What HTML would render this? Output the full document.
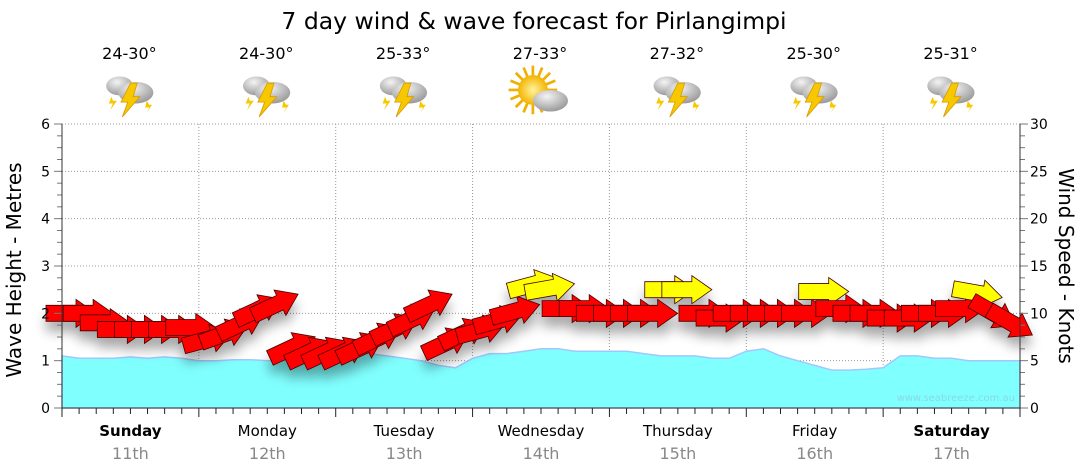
<!DOCTYPE html>
<html><head><meta charset="utf-8"><style>
html,body{margin:0;padding:0;background:#fff;}
svg{display:block;font-family:"DejaVu Sans","Liberation Sans",sans-serif;}
</style></head><body>
<svg id="chart" width="1080" height="475" viewBox="0 0 1080 475">
<defs>
<filter id="sh" x="-50%" y="-50%" width="200%" height="200%"><feGaussianBlur stdDeviation="6"/></filter>
<radialGradient id="cg" cx="40%" cy="30%" r="70%"><stop offset="0" stop-color="#f4f4f4"/><stop offset="1" stop-color="#9a9a9a"/></radialGradient>
<radialGradient id="sg" cx="50%" cy="50%" r="50%"><stop offset="0" stop-color="#fff3a0"/><stop offset="1" stop-color="#f4b400"/></radialGradient>
</defs>
<text x="534" y="29" text-anchor="middle" font-size="23.5" fill="#000">7 day wind &amp; wave forecast for Pirlangimpi</text>
<g id="icons"></g>
<g id="grid"></g>
<path id="wave" fill="#80ffff" stroke="#a0c8ff" stroke-width="1.5"/>
<text x="1015" y="401" text-anchor="end" font-size="10" fill="#8ad8e8">www.seabreeze.com.au</text>
<g id="shadows" filter="url(#sh)" opacity="0.35"></g>
<g id="arrows"></g>
<g id="axes"></g>
<text transform="translate(21,270) rotate(-90)" text-anchor="middle" font-size="20">Wave Height - Metres</text>
<text transform="translate(1059,266) rotate(90)" text-anchor="middle" font-size="20">Wind Speed - Knots</text>
</svg>
<script>
const days=["Sunday","Monday","Tuesday","Wednesday","Thursday","Friday","Saturday"];
const dates=["11th","12th","13th","14th","15th","16th","17th"];
const temps=["24-30°","24-30°","25-33°","27-33°","27-32°","25-30°","25-31°"];
const weather=["storm","storm","storm","sun","storm","storm","storm"];
const leftTicks=[0,1,2,3,4,5,6];
const rightTicks=[0,5,10,15,20,25,30];
// wind every 3 hours (knots)
const windSpeed=[10,10,9,8.3,8.3,8.3,8.3,8.5, 7,7.5,8.5,10,10.5,6,5.5,5.5, 5.5,6,7,8,9,10.5,6.5,7.5, 8,9,10,12.8,12.5,10.5,10.5,10, 10,10,10,12.5,12.5,10,9.5,10, 10,10,10,10,12.3,10.5,10,10, 9.5,9.5,10,10,10.5,12.3,10.5,9.5];
const windDir=[0,0,0,0,0,0,0,0, -15,-20,-25,-25,-25,-25,-25,-25, -25,-25,-25,-25,-25,-25,-25,-25, -15,-15,-15,-15,-10,0,0,0, 0,0,0,0,0,0,0,0, 0,0,0,0,0,0,0,0, 0,0,0,0,0,10,30,30];
// wave every 3 hours (metres)
const wave=[1.1,1.05,1.05,1.05,1.08,1.05,1.08,1.05, 1.0,1.0,1.02,1.02,1.0,1.0,0.98,0.95, 1.0,1.15,1.15,1.1,1.05,1.0,0.9,0.85, 1.05,1.15,1.15,1.2,1.25,1.25,1.2,1.2, 1.2,1.2,1.15,1.1,1.1,1.1,1.05,1.05, 1.2,1.25,1.1,1.0,0.9,0.8,0.8,0.82, 0.85,1.1,1.1,1.05,1.05,1.0,1.0,1.0,1.0];
const NS="http://www.w3.org/2000/svg";
const X0=62,X1=1020,Y0=408,Y1=124;
const dayW=(X1-X0)/7;
const xAt=i=>X0+i*dayW/8;
const yM=m=>Y0-m/6*(Y0-Y1);
const yK=k=>Y0-k/30*(Y0-Y1);
function mk(tag,attrs,parent){const e=document.createElementNS(NS,tag);for(const k in attrs)e.setAttribute(k,attrs[k]);parent.appendChild(e);return e;}
const grid=document.getElementById('grid'),axes=document.getElementById('axes');
leftTicks.forEach(t=>{
  if(t>0){const l=mk('line',{x1:X0,x2:X1,y1:yM(t),y2:yM(t),stroke:'#999','stroke-dasharray':'1,2'},grid);
  
  }
  const tx=mk('text',{x:50,y:yM(t)+5,'text-anchor':'end','font-size':14},axes);tx.textContent=t;
  
  
});
rightTicks.forEach(t=>{
  const tx=mk('text',{x:1030,y:yK(t)+5,'font-size':14},axes);tx.textContent=t;
  
  
});
for(let v=0;v<=6.001;v+=0.25){mk('line',{x1:X0-(v%1===0?8:5),x2:X0,y1:yM(v),y2:yM(v),stroke:'#777'},axes);mk('line',{x1:X1,x2:X1+(v%1===0?8:5),y1:yM(v),y2:yM(v),stroke:'#777'},axes);}
for(let d=1;d<7;d++){const l=mk('line',{x1:X0+d*dayW,x2:X0+d*dayW,y1:Y1,y2:Y0,stroke:'#999','stroke-dasharray':'1,2'},grid);
  
  }
for(let i=0;i<=56;i++){mk('line',{x1:xAt(i),x2:xAt(i),y1:Y0,y2:Y0+(i%8===0?9:6),stroke:'#222'},axes);}
mk('line',{x1:X0,x2:X0,y1:Y1,y2:Y0,stroke:'#333'},axes);
mk('line',{x1:X1,x2:X1,y1:Y1,y2:Y0,stroke:'#333'},axes);
mk('line',{x1:X0,x2:X1,y1:Y0,y2:Y0,stroke:'#333'},axes);
// wave
let p=`M${X0},${Y0}`;wave.forEach((w,i)=>{p+=` L${xAt(i).toFixed(1)},${yM(w).toFixed(1)}`;});p+=` L${X1},${Y0} Z`;
document.getElementById('wave').setAttribute('d',p);
// days
days.forEach((d,i)=>{
  const cx=X0+(i+0.5)*dayW;
  const t=mk('text',{x:cx,y:436,'text-anchor':'middle','font-size':15,'font-weight':(i==0||i==6)?'bold':'normal'},axes);t.textContent=d;
  
  
  const t2=mk('text',{x:cx,y:459,'text-anchor':'middle','font-size':16,fill:'#888'},axes);t2.textContent=dates[i];
  
  
  const t3=mk('text',{x:cx-1,y:59,'text-anchor':'middle','font-size':16},document.getElementById('icons'));t3.textContent=temps[i];
  
  
  const g=mk('g',{transform:`translate(${cx},94) scale(1.35)`},document.getElementById('icons'));
  
  
  if(weather[i]==='sun'){
    for(let a=0;a<16;a++){const r=a*Math.PI/8;mk('line',{x1:-6+Math.cos(r)*10,y1:-3+Math.sin(r)*10,x2:-6+Math.cos(r)*18,y2:-3+Math.sin(r)*18,stroke:'#f0b000','stroke-width':2},g);}
    mk('circle',{cx:-6,cy:-3,r:11,fill:'url(#sg)'},g);
    mk('ellipse',{cx:7,cy:5,rx:13,ry:8,fill:'url(#cg)'},g);
  }else{
    mk('ellipse',{cx:-8,cy:-6,rx:10,ry:7,fill:'url(#cg)'},g);
    mk('ellipse',{cx:4,cy:-1,rx:13,ry:8,fill:'url(#cg)'},g);
    mk('polygon',{points:'0,-8 -7,6 -2,6 -6,17 7,2 2,2 5,-8',fill:'#f7c800',stroke:'#d99a00','stroke-width':0.6},g);
    mk('polygon',{points:'-14,2 -16,7 -13,7 -15,12 -10,5 -13,5',fill:'#f7c800'},g);
    mk('polygon',{points:'12,5 11,10 14,10 12,14 16,8 14,8',fill:'#f7c800'},g);
  }
});
// arrows
const sh=document.getElementById('shadows'),ar=document.getElementById('arrows');
const shape="M-16,-8 L14,-8 L14,-14 L34,0 L14,14 L14,8 L-16,8 Z";
windSpeed.forEach((k,i)=>{
  const x=xAt(i),y=yK(k);
  mk('path',{d:shape,fill:'#000',transform:`translate(${x},${y+10}) rotate(${windDir[i]})`},sh);
  const a=mk('path',{d:shape,fill:k>12?'#ffff00':'#ff0000',stroke:'#400',"stroke-width":0.8,transform:`translate(${x},${y}) rotate(${windDir[i]})`},ar);
  
  
});
</script>
</body></html>
